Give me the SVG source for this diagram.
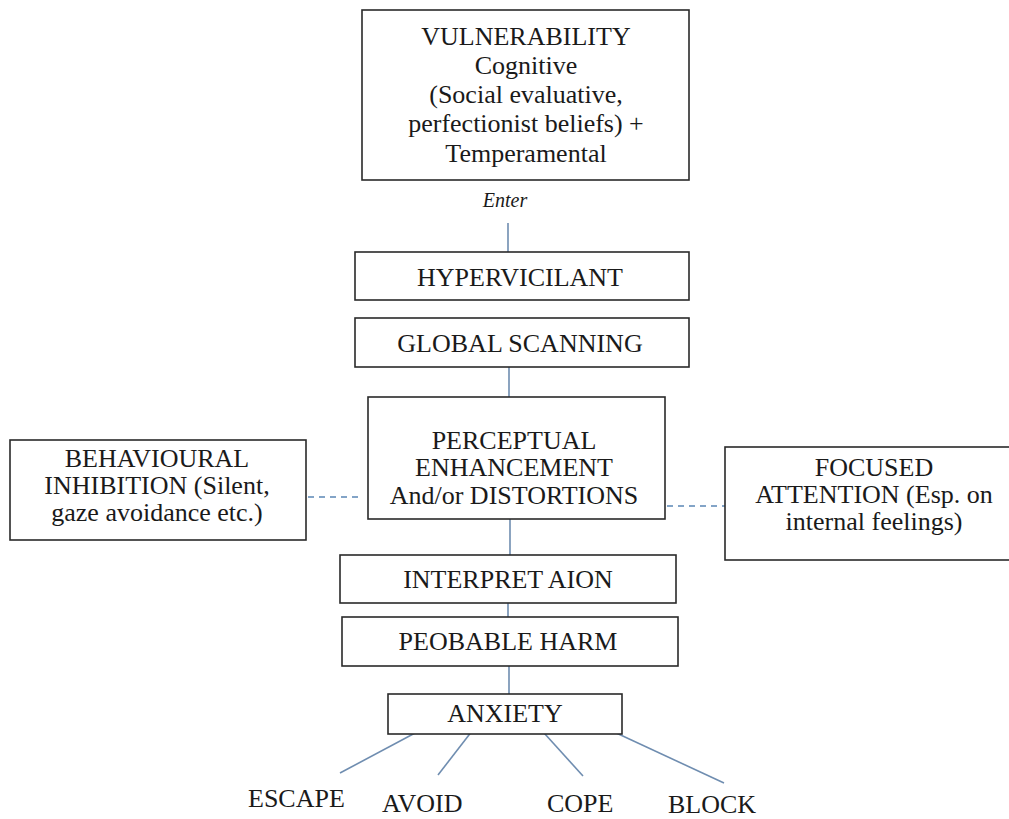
<svg xmlns="http://www.w3.org/2000/svg" width="1009" height="819" viewBox="0 0 1009 819">
<style>
.box{fill:#fff;stroke:#2a2a2a;stroke-width:1.6}
.t{font-family:'Liberation Serif','Times New Roman',serif;font-size:26px;fill:#1a1a1a;text-anchor:middle}
.ts{font-family:'Liberation Serif','Times New Roman',serif;font-size:26px;fill:#1a1a1a}
.it{font-family:'Liberation Serif','Times New Roman',serif;font-size:20px;font-style:italic;fill:#1a1a1a;text-anchor:middle}
.c{stroke:#6f8db0;stroke-width:1.6;fill:none}
.d{stroke:#5b87b5;stroke-width:1.4;fill:none;stroke-dasharray:6 5}
</style>
<rect width="1009" height="819" fill="#fff"/>
<g id="connectors">
<line class="c" x1="508" y1="223" x2="508" y2="252"/>
<line class="c" x1="509" y1="367" x2="509" y2="397"/>
<line class="c" x1="510" y1="519" x2="510" y2="555"/>
<line class="c" x1="508" y1="603" x2="508" y2="617"/>
<line class="c" x1="509" y1="666" x2="509" y2="694"/>
<line class="d" x1="308" y1="497" x2="360" y2="497"/>
<line class="d" x1="656" y1="506" x2="725" y2="506"/>
<line class="c" x1="447" y1="716" x2="340" y2="773"/>
<line class="c" x1="479" y1="722" x2="438" y2="775"/>
<line class="c" x1="535" y1="723" x2="583" y2="776"/>
<line class="c" x1="584" y1="718" x2="724" y2="783"/>
<circle cx="578" cy="718" r="1" fill="#6f8db0"/>
</g>
<g id="vulnerability">
<rect class="box" x="362" y="10" width="327" height="170"/>
<text class="t" x="526" y="45">VULNERABILITY</text>
<text class="t" x="526" y="74">Cognitive</text>
<text class="t" x="526" y="103">(Social evaluative,</text>
<text class="t" x="526" y="132">perfectionist beliefs) +</text>
<text class="t" x="526" y="162">Temperamental</text>
</g>
<g id="enter">
<text class="it" x="505" y="207">Enter</text>
</g>
<g id="hypervicilant">
<rect class="box" x="355" y="252" width="334" height="48"/>
<text class="t" x="520" y="286">HYPERVICILANT</text>
</g>
<g id="global-scanning">
<rect class="box" x="355" y="318" width="334" height="49"/>
<text class="t" x="520" y="352">GLOBAL SCANNING</text>
</g>
<g id="perceptual">
<rect class="box" x="368" y="397" width="297" height="122"/>
<text class="t" x="514" y="449">PERCEPTUAL</text>
<text class="t" x="514" y="476">ENHANCEMENT</text>
<text class="t" x="514" y="504">And/or DISTORTIONS</text>
</g>
<g id="behavioural">
<rect class="box" x="10" y="440" width="296" height="100"/>
<text class="t" x="157" y="467">BEHAVIOURAL</text>
<text class="t" x="157" y="494">INHIBITION (Silent,</text>
<text class="t" x="157" y="521">gaze avoidance etc.)</text>
</g>
<g id="focused">
<rect class="box" x="725" y="447" width="290" height="113"/>
<text class="t" x="874" y="476">FOCUSED</text>
<text class="t" x="874" y="503">ATTENTION (Esp. on</text>
<text class="t" x="874" y="530">internal feelings)</text>
</g>
<g id="interpretation">
<rect class="box" x="340" y="555" width="336" height="48"/>
<text class="t" x="508" y="588">INTERPRET AION</text>
</g>
<g id="probable-harm">
<rect class="box" x="342" y="617" width="336" height="49"/>
<text class="t" x="508" y="650">PEOBABLE HARM</text>
</g>
<g id="anxiety">
<rect class="box" x="388" y="694" width="234" height="40"/>
<text class="t" x="505" y="722">ANXIETY</text>
</g>
<g id="outcomes">
<text class="ts" x="248" y="807">ESCAPE</text>
<text class="ts" x="382" y="812">AVOID</text>
<text class="ts" x="547" y="812">COPE</text>
<text class="ts" x="668" y="813">BLOCK</text>
</g>
</svg>
